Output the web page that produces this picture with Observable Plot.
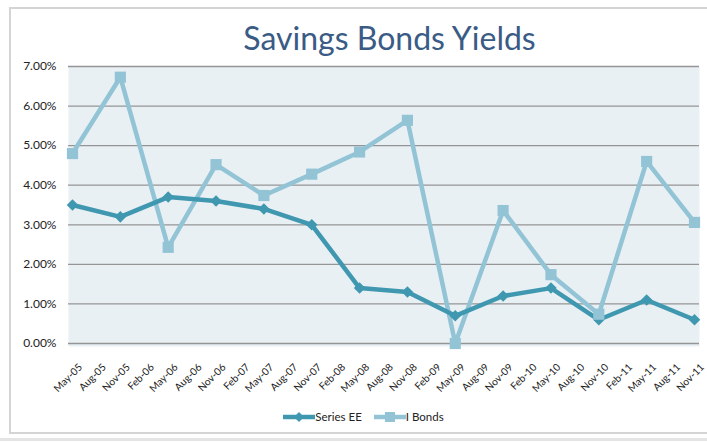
<!DOCTYPE html>
<html><head><meta charset="utf-8">
<script src="https://cdn.jsdelivr.net/npm/d3@7"></script>
<script src="https://cdn.jsdelivr.net/npm/@observablehq/plot@0.6"></script>
<style>
body{margin:0;background:#fff;}
#wrap{position:relative;width:707px;height:442px;overflow:hidden;font-family:Lato,"Open Sans",sans-serif;}
#frame{position:absolute;left:9px;top:7px;width:760px;height:427px;border:2px solid #d4d4d4;box-sizing:border-box;pointer-events:none;}
#frame2{position:absolute;left:0;top:438px;width:707px;height:3px;background:#e4e4e4;}
#title{height:58px;box-sizing:border-box;padding-top:19px;padding-left:72px;text-align:center;font-size:32px;line-height:1.2;color:#3a5b85;white-space:nowrap;}
#chart svg{display:block;}
#legend{display:flex;justify-content:center;align-items:center;padding-left:20px;margin-top:10px;font-size:11.5px;color:#222;gap:12px;}
#legend span.item{display:flex;align-items:center;}
</style></head>
<body>
<div id="wrap">
  <div id="frame"></div>
  <div id="frame2"></div>
  <div id="title">Savings Bonds Yields</div>
  <div id="chart"></div>
  <div id="legend"></div>
</div>
<script>
// Axis tick labels (quarterly)
const tickLabels = ["May-05","Aug-05","Nov-05","Feb-06","May-06","Aug-06","Nov-06","Feb-07","May-07","Aug-07","Nov-07","Feb-08","May-08","Aug-08","Nov-08","Feb-09","May-09","Aug-09","Nov-09","Feb-10","May-10","Aug-10","Nov-10","Feb-11","May-11","Aug-11","Nov-11"];
// Observation dates (semiannual)
const dates = ["May-05","Nov-05","May-06","Nov-06","May-07","Nov-07","May-08","Nov-08","May-09","Nov-09","May-10","Nov-10","May-11","Nov-11"];
// Yields in percent
const seriesEE = [3.50,3.20,3.70,3.60,3.40,3.00,1.40,1.30,0.70,1.20,1.40,0.60,1.10,0.60];
const iBonds   = [4.80,6.73,2.43,4.52,3.74,4.28,4.84,5.64,0.00,3.36,1.74,0.74,4.60,3.06];
const yTicks = [0,1,2,3,4,5,6,7];
const seriesNames = ["Series EE","I Bonds"];
const colors = {"Series EE":"#3f98b0","I Bonds":"#93c4d6"};

const idx = d => tickLabels.indexOf(d);
const eeData = dates.map((d,i)=>({t:idx(d), value:seriesEE[i], series:"Series EE"}));
const ibData = dates.map((d,i)=>({t:idx(d), value:iBonds[i], series:"I Bonds"}));
const xTicks = tickLabels.map((_, i) => i);

const chart = Plot.plot({
  width: 707,
  height: 342,
  marginTop: 8,
  marginBottom: 57,
  marginLeft: 68,
  marginRight: 8,
  style: {fontFamily: "Lato, 'Open Sans', sans-serif", background: "transparent"},
  x: {type: "linear", domain: [0, tickLabels.length - 1], insetLeft: 4, insetRight: 5, label: null},
  y: {domain: [0, 7], label: null},
  marks: [
    Plot.frame({fill: "#e8f0f4", stroke: null, insetBottom: -3}),
    Plot.ruleY(yTicks, {stroke: "#959595", strokeWidth: 1.3}),
    Plot.axisY(yTicks, {tickSize: 0, tickPadding: 12, tickFormat: d => d.toFixed(2) + "%", fontSize: 12, fill: "#222", label: null}),
    Plot.axisX(xTicks, {tickSize: 0, tickPadding: 16, tickRotate: -45, tickFormat: i => tickLabels[i], fontSize: 10.2, fill: "#222", label: null, dx: 8, dy: 6}),
    Plot.line(ibData, {x: "t", y: "value", stroke: colors["I Bonds"], strokeWidth: 4.5}),
    Plot.line(eeData, {x: "t", y: "value", stroke: colors["Series EE"], strokeWidth: 4.5}),
    Plot.dot(eeData, {x: "t", y: "value", symbol: "diamond2", r: 5.2, fill: colors["Series EE"], stroke: null}),
    Plot.dot(ibData, {x: "t", y: "value", symbol: "square", r: 6.3, fill: colors["I Bonds"], stroke: null})
  ]
});
document.getElementById("chart").appendChild(chart);

// Legend
const legend = document.getElementById("legend");
seriesNames.forEach(name => {
  const item = document.createElement("span");
  item.className = "item";
  const sym = name === "Series EE"
    ? `<path d="M16,1 L21,6 L16,11 L11,6 Z" fill="${colors[name]}"/>`
    : `<rect x="11" y="1" width="10" height="10" fill="${colors[name]}"/>`;
  item.innerHTML = `<svg width="32" height="12" style="display:block"><line x1="0" x2="32" y1="6" y2="6" stroke="${colors[name]}" stroke-width="4.5"/>${sym}</svg><span>${name}</span>`;
  legend.appendChild(item);
});
</script>
</body></html>
